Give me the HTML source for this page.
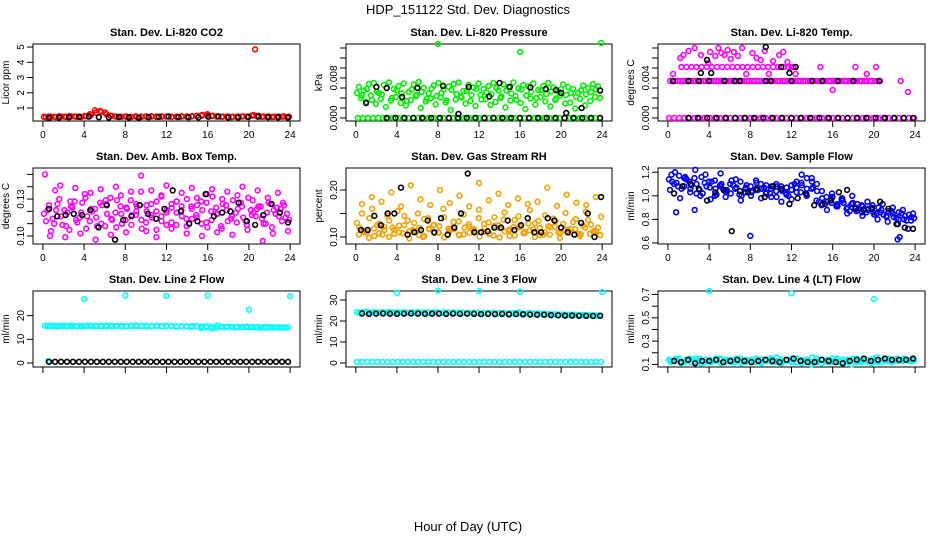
<!DOCTYPE html>
<html><head><meta charset="utf-8"><style>
html,body{margin:0;padding:0;background:#fff;}
svg{display:block;font-family:"Liberation Sans",sans-serif;}
</style></head><body>
<svg id="chart" width="936" height="540" viewBox="0 0 936 540">
<text x="468" y="14" text-anchor="middle" font-size="13">HDP_151122  Std. Dev. Diagnostics</text>
<text x="468" y="531" text-anchor="middle" font-size="13">Hour of Day (UTC)</text>
</svg>
<script>
// ---- data ----
const xTicks = [0,4,8,12,16,20,24];
// P1 CO2
const p1Red = [0.42,0.45,0.43,0.46,0.44,0.47,0.45,0.44,0.48,0.6,0.85,0.8,0.7,0.5,0.46,0.44,0.45,0.43,0.46,0.44,0.45,0.47,0.44,0.46,0.45,0.43,0.44,0.46,0.45,0.47,0.5,0.55,0.6,0.5,0.46,0.44,0.45,0.43,0.44,0.46,0.45,0.55,0.5,0.44,0.45,0.43,0.44,0.45,0.43];
const p1Red2 = [0.40,0.43,0.41,0.44,0.42,0.45,0.43,0.41,0.46,0.55,0.7,0.75,0.6,0.48,0.43,0.42,0.44,0.41,0.43,0.42,0.44,0.45,0.42,0.43,0.44,0.41,0.42,0.44,0.43,0.45,0.48,0.5,0.52,0.47,0.44,0.42,0.43,0.41,0.42,0.44,0.43,0.5,0.47,0.42,0.43,0.41,0.42,0.43,0.41];
const p1Black = [0.35,0.38,0.40,0.42,0.44,0.40,0.38,0.41,0.39,0.37,0.40,0.42,0.45,0.41,0.40,0.39,0.43,0.45,0.38,0.39,0.41,0.43,0.40,0.39,0.38];
const p1OutT = [20.6]; const p1OutV = [4.85];
// P2 pressure
const p2GreenHi = [0.0062,0.0055,0.0068,0.0070,0.0050,0.0066,0.0071,0.0058,0.0064,0.0069,0.0052,0.0067,0.0072,0.0060,0.0049,0.0065,0.0070,0.0057,0.0063,0.0068,0.0071,0.0054,0.0066,0.0061,0.0069,0.0058,0.0064,0.0070,0.0055,0.0067,0.0062,0.0071,0.0059,0.0066,0.0063,0.0069,0.0056,0.0064,0.0070,0.0061,0.0053,0.0067,0.0062,0.0058,0.0050,0.0065,0.0060,0.0068,0.0063];
const p2GreenLo = [0.0040,0.0032,0.0045,0.0028,0.0038,0.0022,0.0035,0.0042,0.0030,0.0025,0.0036,0.0044,0.0020,0.0033,0.0039,0.0027,0.0041,0.0031,0.0016,0.0037,0.0043,0.0029,0.0034,0.0024,0.0046,0.0038,0.0026,0.0032,0.0040,0.0021,0.0035,0.0044,0.0030,0.0018,0.0039,0.0027,0.0042,0.0033,0.0023,0.0036,0.0045,0.0029,0.0031,0.0019,0.0038,0.0025,0.0034,0.0042,0.0040];
const p2GreenMid = [0.0050,0.0045,0.0058,0.0036,0.0053,0.0047,0.0060,0.0040,0.0055,0.0049,0.0034,0.0057,0.0046,0.0052,0.0038,0.0059,0.0044,0.0050,0.0035,0.0056,0.0048,0.0041,0.0054,0.0046,0.0058,0.0037,0.0051,0.0047,0.0060,0.0043,0.0055,0.0049,0.0036,0.0057,0.0045,0.0052,0.0040,0.0056,0.0048,0.0053,0.0039,0.0058,0.0046,0.0050,0.0042,0.0055,0.0047,0.0052,0.0057];
const p2GreenZero = [0,0,0,0,0,0,0,0,0,0,0,0,0,0,0,0,0,0,0,0,0,0,0,0,0,0,0,0,0,0,0,0,0,0,0,0,0,0,0,0,0,0,0,0,0,0,0,0,0];
const p2OutT = [8.0,16.0,23.9]; const p2OutV = [0.0148,0.0132,0.0150];
const p2BlackT = [1.0,2.0,3.0,4.5,6.0,8.5,10.0,11.0,13.0,14.0,15.0,17.0,18.5,19.5,20.0,20.5,22.0,23.8];
const p2BlackV = [0.0030,0.0062,0.0060,0.0042,0.0060,0.0064,0.0008,0.0062,0.0043,0.0070,0.0062,0.0061,0.0058,0.0056,0.0050,0.0010,0.0020,0.0055];
const p2BlackZero = [0,0,0,0,0,0,0,0,0,0,0,0,0,0,0,0,0,0,0,0,0,0,0,0,0];
// P3 Li-820 temp
const p3MagZero = [0,0,0,0,0,0,0,0,0,0,0,0,0,0,0,0,0,0,0,0,0,0,0,0,0,0,0,0,0,0,0,0,0,0,0,0,0,0,0,0,0,0,0,0,0,0,0,0,0];
const p3MagMid = [0.0037,0.0037,0.0037,0.0037,0.0037,0.0037,0.0037,0.0037,0.0037,0.0037,0.0037,0.0037,0.0037,0.0037,0.0037,0.0037,0.0037,0.0037,0.0037,0.0037,0.0037,0.0037,0.0037,0.0037,0.0037,0.0037,0.0037,0.0037,0.0037,0.0037,0.0037,0.0037,0.0037,0.0037,0.0037,0.0037,0.0037,0.0037,0.0037,0.0037,0.0037,0.0037];
const p3MagMid2 = [0.0037,0.0037,0.0037,0.0037,0.0037,0.0037,0.0037,0.0037,0.0037,0.0037,0.0037,0.0037,0.0037,0.0037,0.0037,0.0037,0.0037,0.0037,0.0037,0.0037,0.0037,0.0037,0.0037,0.0037,0.0037,0.0037,0.0037,0.0037,0.0037,0.0037,0.0037,0.0037,0.0037,0.0037,0.0037,0.0037,0.0037,0.0037,0.0037,0.0037,0.0037];
const p3MagUp = [0.0051,0.0051,0.0051,0.0051,0.0051,0.0051,0.0051,0.0051,0.0051,0.0051,0.0051,0.0051,0.0051,0.0051,0.0051,0.0051,0.0051,0.0051,0.0051,0.0051,0.0051,0.0051,0.0051];
const p3ScatT = [0.5,1.2,1.5,2.0,2.6,3.2,3.9,4.1,4.6,4.9,5.2,5.5,5.8,6.1,6.4,6.8,7.2,7.6,8.2,8.6,9.0,9.4,9.8,10.2,10.8,11.2,11.6,12.0,12.4,14.8,16.0,18.2,19.3,20.2,22.6,23.3];
const p3ScatV = [0.0044,0.0060,0.0063,0.0067,0.0070,0.0063,0.0055,0.0066,0.0062,0.0070,0.0065,0.0063,0.0068,0.0059,0.0066,0.0062,0.0070,0.0044,0.0065,0.0060,0.0058,0.0067,0.0044,0.0057,0.0063,0.0066,0.0056,0.0051,0.0044,0.0051,0.0028,0.0051,0.0044,0.0051,0.0037,0.0026];
const p3BlackZero = [0,0,0,0,0,0,0,0,0,0,0,0,0,0,0,0,0,0,0,0,0,0,0,0,0];
const p3BlackT = [0.5,2.0,3.0,4.0,5.5,6.5,7.0,9.5,10.0,12.0,14.0,15.0,16.5,18.0,20.5,3.8,3.2,4.2,11.8,12.4,11.0,9.5];
const p3BlackV = [0.0037,0.0037,0.0037,0.0037,0.0037,0.0037,0.0037,0.0037,0.0037,0.0037,0.0037,0.0037,0.0037,0.0037,0.0037,0.0058,0.0045,0.0045,0.0045,0.0051,0.0051,0.0071];
// P4 amb box temp
const p4Mag1 = [0.118,0.125,0.110,0.130,0.121,0.105,0.128,0.115,0.134,0.112,0.122,0.127,0.108,0.131,0.119,0.124,0.113,0.129,0.117,0.136,0.111,0.126,0.120,0.133,0.109,0.123,0.128,0.116,0.130,0.114,0.125,0.121,0.107,0.132,0.118,0.126,0.112,0.129,0.122,0.115,0.131,0.119,0.124,0.110,0.127,0.121,0.116,0.125,0.113];
const p4Mag2 = [0.112,0.104,0.121,0.116,0.108,0.124,0.113,0.119,0.106,0.122,0.115,0.110,0.126,0.114,0.107,0.118,0.123,0.109,0.120,0.113,0.125,0.117,0.105,0.116,0.121,0.111,0.119,0.124,0.108,0.122,0.115,0.110,0.127,0.113,0.118,0.106,0.121,0.116,0.111,0.124,0.109,0.117,0.122,0.114,0.119,0.107,0.123,0.112,0.118];
const p4Mag3 = [0.150,0.100,0.137,0.141,0.099,0.128,0.139,0.102,0.131,0.135,0.097,0.138,0.129,0.101,0.140,0.133,0.103,0.136,0.126,0.149,0.104,0.137,0.099,0.132,0.141,0.106,0.128,0.135,0.102,0.139,0.131,0.100,0.134,0.138,0.103,0.130,0.136,0.101,0.133,0.140,0.105,0.129,0.137,0.096,0.131,0.102,0.135,0.127,0.104];
const p4Mag4 = [0.121,0.114,0.126,0.109,0.119,0.123,0.111,0.127,0.116,0.120,0.108,0.125,0.118,0.113,0.129,0.110,0.122,0.117,0.124,0.106,0.120,0.115,0.128,0.112,0.119,0.126,0.109,0.121,0.114,0.124,0.117,0.128,0.111,0.120,0.123,0.108,0.125,0.114,0.119,0.127,0.112,0.121,0.116,0.124,0.110,0.126,0.118,0.122,0.115];
const p4Black = [0.122,0.116,0.117,0.118,0.117,0.121,0.107,0.125,0.097,0.113,0.116,0.125,0.118,0.114,0.122,0.137,0.120,0.110,0.112,0.134,0.116,0.119,0.120,0.127,0.112,0.109,0.117,0.126,0.119,0.111];
// P5 gas stream RH
const p5Or1 = [0.130,0.150,0.110,0.160,0.125,0.105,0.145,0.120,0.155,0.108,0.135,0.115,0.150,0.100,0.140,0.125,0.110,0.160,0.118,0.132,0.105,0.148,0.122,0.113,0.158,0.128,0.107,0.142,0.119,0.152,0.102,0.136,0.124,0.111,0.157,0.129,0.104,0.146,0.121,0.133,0.109,0.151,0.117,0.138,0.106,0.154,0.126,0.112,0.143];
const p5Or2 = [0.105,0.112,0.098,0.118,0.108,0.122,0.100,0.115,0.110,0.125,0.097,0.113,0.119,0.102,0.116,0.108,0.123,0.099,0.111,0.117,0.104,0.120,0.109,0.114,0.101,0.118,0.106,0.124,0.099,0.112,0.116,0.103,0.121,0.108,0.114,0.100,0.119,0.110,0.105,0.122,0.098,0.115,0.109,0.117,0.102,0.120,0.107,0.113,0.104];
const p5Or3 = [0.170,0.185,0.175,0.195,0.165,0.210,0.180,0.168,0.200,0.172,0.188,0.165,0.215,0.178,0.192,0.168,0.182,0.170,0.175,0.205,0.166,0.190,0.173,0.168,0.185];
const p5Or4 = [0.120,0.110,0.140,0.102,0.128,0.115,0.135,0.107,0.124,0.145,0.112,0.130,0.104,0.138,0.118,0.126,0.109,0.142,0.114,0.122,0.133,0.106,0.127,0.117,0.140,0.111,0.131,0.103,0.125,0.137,0.113,0.121,0.144,0.108,0.129,0.116,0.134,0.105,0.123,0.139,0.110,0.128,0.115,0.132,0.107,0.124,0.136,0.112,0.120];
const p5Black = [0.115,0.115,0.145,0.125,0.150,0.150,0.205,0.105,0.110,0.115,0.135,0.110,0.140,0.105,0.120,0.150,0.235,0.110,0.110,0.112,0.120,0.120,0.135,0.115,0.125,0.140,0.110,0.110,0.140,0.135,0.120,0.110,0.105,0.130,0.150,0.100,0.185];
// P6 sample flow
const p6Blue1 = [1.14,1.10,1.17,1.08,1.12,1.15,1.05,1.11,1.07,1.13,1.09,1.04,1.10,1.06,1.12,1.03,1.08,1.05,1.10,1.02,1.06,1.04,1.08,1.01,1.05,1.03,1.09,1.06,1.12,1.04,0.98,0.95,0.99,0.93,0.96,0.90,0.94,0.88,0.91,0.89,0.86,0.90,0.84,0.87,0.82,0.86,0.80,0.84,0.81];
const p6Blue2 = [1.05,1.20,0.98,1.16,1.03,1.22,1.00,1.18,0.97,1.06,1.19,0.99,1.02,1.14,0.96,1.07,1.00,1.13,0.98,1.09,0.99,1.10,0.95,1.07,0.97,1.12,1.18,1.00,1.15,1.10,1.04,0.88,1.02,0.92,0.98,0.85,1.00,0.93,0.83,0.95,0.92,0.80,0.93,0.78,0.90,0.76,0.88,0.72,0.85];
const p6Blue3 = [1.12,1.08,1.15,1.06,1.10,1.02,1.12,1.00,1.08,1.04,1.09,1.01,1.06,1.03,1.05,1.07,1.02,1.08,1.04,1.00,1.10,1.03,1.15,1.07,0.95,0.93,0.97,0.91,0.94,0.87,0.90,0.86,0.88,0.84,0.86,0.82,0.85,0.80,0.83,0.79];
const p6Blue4 = [1.18,1.11,1.06,1.14,1.09,1.02,1.16,1.08,1.12,1.01,1.10,1.05,1.13,1.07,1.00,1.09,1.04,1.11,1.06,1.03,1.08,0.99,1.05,1.02,1.09,1.07,1.11,1.01,1.06,0.96,0.92,0.99,0.94,0.91,0.97,0.89,0.93,0.87,0.92,0.86,0.90,0.85,0.88,0.83,0.87,0.81,0.85,0.79,0.82];
const p6OutT = [0.8,2.6,8.0,22.3,22.5]; const p6OutV = [0.86,0.88,0.66,0.63,0.65];
const p6Black = [1.02,1.08,1.10,1.06,0.96,1.03,1.05,0.70,1.04,1.03,1.06,0.99,1.08,1.06,0.93,0.98,1.02,0.92,0.93,0.96,1.03,1.05,0.89,0.88,0.89,0.95,0.89,0.76,0.73,0.72];
// P7 line 2 flow
const p7Cyan = [15.8,15.7,15.8,15.6,15.7,15.8,15.6,15.7,15.6,15.8,15.7,15.6,15.7,15.8,15.6,15.7,15.6,15.7,15.8,15.6,15.7,15.6,15.7,15.6,15.7,15.6,15.5,15.6,15.5,15.6,15.5,15.4,15.0,14.6,15.8,15.3,15.4,15.2,15.3,15.2,15.3,15.2,15.1,15.2,15.1,15.2,15.1,15.0,15.1];
const p7Cyan2 = [15.5,15.6,15.4,15.7,15.5,15.6,15.5,15.4,15.7,15.5,15.6,15.4,15.6,15.5,15.7,15.5,15.4,15.6,15.5,15.7,15.4,15.5,15.6,15.4,15.5,15.6,15.3,15.5,15.4,15.2,15.6,14.8,15.5,15.3,14.9,15.2,15.1,15.3,15.0,15.1,15.2,15.0,15.1,14.9,15.0,15.1,14.9,15.0,14.9];
const p7Black = [0.5,0.5,0.5,0.5,0.5,0.5,0.5,0.5,0.5,0.5,0.5,0.5,0.5,0.5,0.5,0.5,0.5,0.5,0.5,0.5,0.5,0.5,0.5,0.5,0.5,0.5,0.5,0.5,0.5,0.5,0.5,0.5,0.5,0.5,0.5,0.5,0.5,0.5,0.5,0.5,0.5];
const p7OutT = [0.5,4,8,12,16,20,24]; const p7OutV = [0.8,27,28.5,28.3,28.5,22.5,28.2];
// P8 line 3 flow
const p8Cyan = [24.2,24.0,24.3,24.1,24.0,24.2,24.1,24.0,24.2,24.1,24.0,24.1,24.2,24.0,24.1,24.0,24.1,24.0,24.1,24.0,23.9,24.0,23.9,24.0,23.9,23.8,23.9,23.8,23.9,23.8,23.7,23.8,23.7,23.6,23.9,23.6,23.5,23.4,23.3,23.2,23.1,23.0,23.0,22.9,22.9,22.8,22.8,22.7,22.7];
const p8Cyan2 = [24.0,24.3,24.1,24.2,24.0,24.1,24.3,24.1,24.0,24.2,24.1,24.0,24.2,24.1,24.0,24.1,24.0,24.1,23.9,24.1,24.0,23.9,23.8,24.0,23.8,23.9,23.7,23.9,23.7,23.8,23.6,23.7,24.2,23.5,23.6,23.4,23.5,23.3,23.2,23.1,23.0,23.1,22.9,23.0,22.8,22.9,22.7,22.8,22.6];
const p8Black = [23.6,23.4,23.5,23.6,23.5,23.4,23.5,23.6,23.5,23.4,23.5,23.5,23.4,23.5,23.4,23.5,23.4,23.3,23.4,23.3,23.4,23.2,23.3,23.2,23.1,23.0,23.0,22.8,22.7,22.6,22.6,22.5,22.5,22.4,22.5];
const p8CyanZero = [0.5,0.5,0.5,0.5,0.5,0.5,0.5,0.5,0.5,0.5,0.5,0.5,0.5,0.5,0.5,0.5,0.5,0.5,0.5,0.5,0.5,0.5,0.5,0.5,0.5,0.5,0.5,0.5,0.5,0.5,0.5,0.5,0.5,0.5,0.5,0.5,0.5,0.5,0.5,0.5,0.5,0.5,0.5,0.5,0.5,0.5,0.5,0.5,0.5];
const p8OutT = [4,8,12,16,24]; const p8OutV = [33.5,34.5,34.3,34.0,33.8];
// P9 line 4 flow
const p9Cyan1 = [0.14,0.13,0.15,0.12,0.14,0.13,0.15,0.12,0.14,0.13,0.15,0.13,0.14,0.12,0.15,0.13,0.14,0.12,0.14,0.13,0.15,0.12,0.14,0.13,0.15,0.12,0.14,0.13,0.16,0.12,0.14,0.13,0.15,0.12,0.14,0.12,0.15,0.13,0.14,0.12,0.15,0.13,0.14,0.15,0.13,0.14,0.15,0.13,0.14];
const p9Cyan2 = [0.12,0.15,0.11,0.14,0.12,0.15,0.11,0.14,0.12,0.15,0.11,0.14,0.12,0.15,0.11,0.14,0.12,0.15,0.11,0.14,0.12,0.16,0.11,0.14,0.12,0.15,0.11,0.14,0.10,0.15,0.11,0.14,0.12,0.15,0.11,0.14,0.10,0.15,0.12,0.14,0.11,0.16,0.12,0.14,0.12,0.15,0.13,0.14,0.13];
const p9Cyan3 = [0.13,0.14,0.12,0.13,0.15,0.12,0.13,0.14,0.12,0.13,0.14,0.12,0.13,0.14,0.13,0.12,0.13,0.14,0.12,0.13,0.14,0.13,0.12,0.14,0.13,0.12,0.13,0.14,0.12,0.13,0.14,0.12,0.13,0.14,0.12,0.13,0.14,0.12,0.13,0.14,0.13,0.12,0.14,0.13,0.14,0.13,0.14,0.14,0.13];
const p9Black = [0.13,0.12,0.14,0.11,0.13,0.13,0.14,0.12,0.13,0.14,0.13,0.12,0.13,0.14,0.13,0.12,0.14,0.15,0.13,0.12,0.12,0.14,0.13,0.12,0.11,0.13,0.14,0.15,0.13,0.14,0.15,0.14,0.14,0.14,0.15];
const p9OutT = [4,12,20]; const p9OutV = [0.73,0.71,0.66];

// ---- layout ----
const NS = "http://www.w3.org/2000/svg";
const svg = document.getElementById('chart');
const colX = [[33,300],[346,612],[658,925]];
const rowY = [[44,121],[168,244],[291,367]];
function mk(tag, attrs, parent){
  const e = document.createElementNS(NS, tag);
  for (const k in attrs) e.setAttribute(k, attrs[k]);
  (parent||svg).appendChild(e); return e;
}
function makePanel(col,row,title,ylab,yTop,yBot,yTicks,yLabels,showXLabels,name){
  const g = mk('g',{});
  
  
  const [L,R] = colX[col], [T,B] = rowY[row];
  const x0 = L + 0.96*(R-L)/25.92;
  const xs = t => x0 + t*(R-L)/25.92;
  const ys = v => T + (yTop - v)/(yTop - yBot)*(B-T);
  const frame = mk('rect',{x:L,y:T,width:R-L,height:B-T,fill:'none',stroke:'#000','stroke-width':1},g);
  
  
  const tt = mk('text',{x:(L+R)/2,y:T-8,'text-anchor':'middle','font-size':11,'font-weight':'bold'},g);
  tt.textContent = title;
  
  
  const yl = mk('text',{x:0,y:0,'text-anchor':'middle','font-size':10,transform:`translate(${L-24},${(T+B)/2}) rotate(-90)`},g);
  yl.textContent = ylab;
  
  
  xTicks.forEach(t=>{
    const tk = mk('line',{x1:xs(t),x2:xs(t),y1:B,y2:B+6,stroke:'#000'},g);
    
    
    if (showXLabels){
      const lb = mk('text',{x:xs(t),y:B+17,'text-anchor':'middle','font-size':10},g);
      lb.textContent = t;
      
      
    }
  });
  yTicks.forEach(v=>{
    const tk = mk('line',{x1:L-6,x2:L,y1:ys(v),y2:ys(v),stroke:'#000'},g);
    
    
  });
  yLabels.forEach(([v,s])=>{
    const lb = mk('text',{x:0,y:0,'text-anchor':'middle','font-size':10,transform:`translate(${L-9},${ys(v)}) rotate(-90)`},g);
    lb.textContent = s;
    
    
  });
  const clip = mk('g',{},g);
  function pts(times, vals, color, sname){
    const sg = mk('g',{fill:'none',stroke:color,'stroke-width':1.6},clip);
    
    
    vals.forEach((v,i)=>{
      const c = mk('circle',{cx:xs(times[i]),cy:ys(v),r:2.4},sg);
      
      
    });
  }
  return {
    reg(vals,t0,t1,color,sname){ const n=vals.length; const times=vals.map((_,i)=>t0+(t1-t0)*i/Math.max(1,n-1)); pts(times,vals,color,sname); },
    at(times,vals,color,sname){ pts(times,vals,color,sname); }
  };
}
const K='#000', RED='#ff0000', GRN='#00ee00', MAG='#ff00ff', BLU='#0000ff', CYN='#00ffff', ORG='#f5a000';

let p = makePanel(0,0,'Stan. Dev. Li-820 CO2','Licor ppm',5.2,0.15,[1,2,3,4,5],[[1,'1'],[2,'2'],[3,'3'],[4,'4'],[5,'5']],true,'panel-co2');
p.reg(p1Red,0.1,23.9,RED,'series-co2'); p.reg(p1Red2,0.3,23.7,RED,'series-co2-b'); p.at(p1OutT,p1OutV,RED,'series-co2-outlier'); p.reg(p1Black,0.6,23.8,K,'series-co2-black');

p = makePanel(1,0,'Stan. Dev. Li-820 Pressure','kPa',0.0148,-0.0006,[0,0.002,0.004,0.006,0.008,0.010,0.012,0.014],[[0,'0.000'],[0.008,'0.008']],true,'panel-pressure');
p.reg(p2GreenZero,0.2,23.8,GRN,'series-pressure-zero'); p.reg(p2GreenHi,0.3,23.6,GRN,'series-pressure-hi'); p.reg(p2GreenLo,0.5,23.8,GRN,'series-pressure-lo'); p.reg(p2GreenMid,0.1,23.4,GRN,'series-pressure-mid'); p.at(p2OutT,p2OutV,GRN,'series-pressure-outlier');
p.reg(p2BlackZero,3.0,23.8,K,'series-pressure-black-zero'); p.at(p2BlackT,p2BlackV,K,'series-pressure-black');

p = makePanel(2,0,'Stan. Dev. Li-820 Temp.','degrees C',0.0074,-0.0003,[0,0.001,0.002,0.003,0.004,0.005,0.006,0.007],[[0,'0.000'],[0.004,'0.004']],true,'panel-li820-temp');
p.reg(p3MagZero,0.1,23.9,MAG,'series-temp-zero'); p.reg(p3MagMid,0.2,20.6,MAG,'series-temp-mid'); p.reg(p3MagMid2,0.45,20.3,MAG,'series-temp-mid-b'); p.reg(p3MagUp,1.3,12.2,MAG,'series-temp-up'); p.at(p3ScatT,p3ScatV,MAG,'series-temp-scatter');
p.reg(p3BlackZero,2.0,23.8,K,'series-temp-black-zero'); p.at(p3BlackT,p3BlackV,K,'series-temp-black');

p = makePanel(0,1,'Stan. Dev. Amb. Box Temp.','degrees C',0.1552,0.0935,[0.10,0.11,0.12,0.13,0.14,0.15],[[0.10,'0.10'],[0.13,'0.13']],true,'panel-box-temp');
p.reg(p4Mag1,0.1,23.9,MAG,'series-box-1'); p.reg(p4Mag2,0.3,23.7,MAG,'series-box-2'); p.reg(p4Mag3,0.2,23.8,MAG,'series-box-3'); p.reg(p4Mag4,0.45,23.55,MAG,'series-box-4'); p.reg(p4Black,0.6,23.8,K,'series-box-black');

p = makePanel(1,1,'Stan. Dev. Gas Stream RH','percent',0.2468,0.0851,[0.10,0.15,0.20],[[0.10,'0.10'],[0.20,'0.20']],true,'panel-rh');
p.reg(p5Or1,0.1,23.9,ORG,'series-rh-1'); p.reg(p5Or2,0.3,23.8,ORG,'series-rh-2'); p.reg(p5Or3,0.6,23.4,ORG,'series-rh-3'); p.reg(p5Or4,0.35,23.6,ORG,'series-rh-4'); p.reg(p5Black,0.5,23.9,K,'series-rh-black');

p = makePanel(2,1,'Stan. Dev. Sample Flow','ml/min',1.236,0.591,[0.6,0.8,1.0,1.2],[[0.6,'0.6'],[0.8,'0.8'],[1.0,'1.0'],[1.2,'1.2']],true,'panel-sample-flow');
p.reg(p6Blue1,0.1,23.9,BLU,'series-flow-1'); p.reg(p6Blue2,0.2,23.8,BLU,'series-flow-2'); p.reg(p6Blue3,0.4,23.6,BLU,'series-flow-3'); p.reg(p6Blue4,0.35,23.65,BLU,'series-flow-4'); p.at(p6OutT,p6OutV,BLU,'series-flow-outlier'); p.reg(p6Black,0.6,23.8,K,'series-flow-black');

p = makePanel(0,2,'Stan. Dev. Line 2 Flow','ml/min',30.4,-1.7,[0,10,20],[[0,'0'],[10,'10'],[20,'20']],false,'panel-line2');
p.reg(p7Cyan,0.2,23.8,CYN,'series-line2'); p.reg(p7Cyan2,0.45,23.55,CYN,'series-line2-b'); p.at(p7OutT,p7OutV,CYN,'series-line2-outlier'); p.reg(p7Black,0.6,23.8,K,'series-line2-black');

p = makePanel(1,2,'Stan. Dev. Line 3 Flow','ml/min',34.3,-1.9,[0,10,20,30],[[0,'0'],[10,'10'],[20,'20'],[30,'30']],false,'panel-line3');
p.reg(p8Cyan,0.1,23.8,CYN,'series-line3'); p.reg(p8Cyan2,0.35,23.55,CYN,'series-line3-b'); p.reg(p8CyanZero,0.1,23.9,CYN,'series-line3-zero'); p.at(p8OutT,p8OutV,CYN,'series-line3-outlier'); p.reg(p8Black,0.6,23.8,K,'series-line3-black');

p = makePanel(2,2,'Stan. Dev. Line 4 (LT) Flow','ml/min',0.730,0.078,[0.1,0.2,0.3,0.4,0.5,0.6,0.7],[[0.1,'0.1'],[0.3,'0.3'],[0.5,'0.5'],[0.7,'0.7']],false,'panel-line4');
p.reg(p9Cyan1,0.1,23.9,CYN,'series-line4-1'); p.reg(p9Cyan2,0.3,23.7,CYN,'series-line4-2'); p.reg(p9Cyan3,0.2,23.8,CYN,'series-line4-3'); p.at(p9OutT,p9OutV,CYN,'series-line4-outlier'); p.reg(p9Black,0.6,23.8,K,'series-line4-black');
</script>
</body></html>
